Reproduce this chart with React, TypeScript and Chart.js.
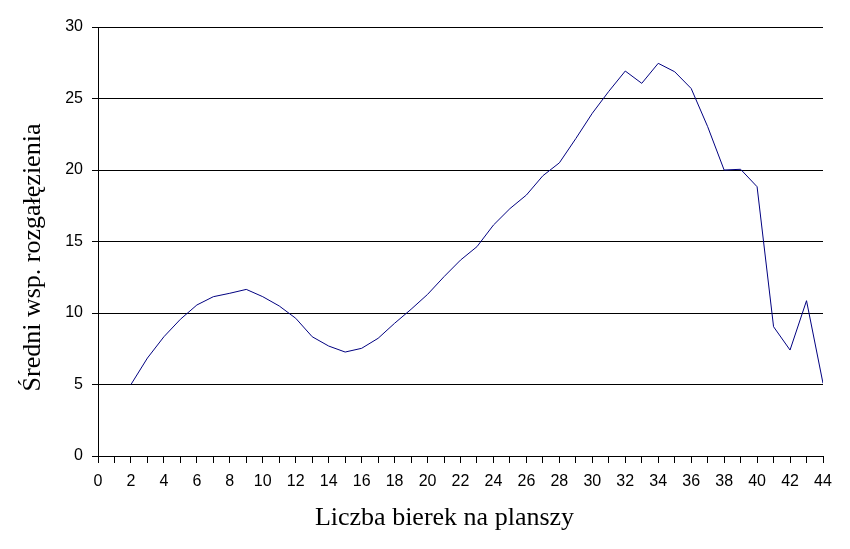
import React, { useEffect, useRef } from "react";
import { Chart, registerables } from "chart.js";

Chart.register(...registerables);

const xValues = [2, 3, 4, 5, 6, 7, 8, 9, 10, 11, 12, 13, 14, 15, 16, 17, 18, 19, 20, 21, 22, 23, 24, 25, 26, 27, 28, 29, 30, 31, 32, 33, 34, 35, 36, 37, 38, 39, 40, 41, 42, 43, 44];
const yValues = [5.0, 6.85, 8.34, 9.56, 10.56, 11.14, 11.38, 11.65, 11.14, 10.49, 9.63, 8.34, 7.69, 7.27, 7.53, 8.23, 9.28, 10.26, 11.3, 12.54, 13.7, 14.64, 16.15, 17.3, 18.25, 19.6, 20.5, 22.2, 23.97, 25.5, 26.92, 26.06, 27.46, 26.87, 25.7, 23.03, 20.0, 20.05, 18.83, 9.04, 7.41, 10.86, 5.08];
const xTitle = "Liczba bierek na planszy";
const yTitle = "Średni wsp. rozgałęzienia";

const titlesPlugin = {
  id: "excelTitles",
  afterDraw(chart: any) {
    const { ctx, chartArea } = chart;
    ctx.save();
    ctx.fillStyle = "#000";
    ctx.font = "26px 'Liberation Serif', 'Times New Roman', serif";
    ctx.textAlign = "center";
    ctx.textBaseline = "middle";
    const cx = (chartArea.left + chartArea.right) / 2 - 16;
    ctx.fillText(xTitle, cx, 518);
    const cy = (chartArea.top + chartArea.bottom) / 2 + 16;
    ctx.translate(33, cy);
    ctx.rotate(-Math.PI / 2);
    ctx.fillText(yTitle, 0, 0);
    ctx.restore();
  },
};

export default function App() {
  const ref = useRef<HTMLCanvasElement | null>(null);
  useEffect(() => {
    if (!ref.current) return;
    const chart = new Chart(ref.current, {
      type: "line",
      data: {
        datasets: [
          {
            data: xValues.map((x, i) => ({ x, y: yValues[i] })),
            borderColor: "#000080",
            borderWidth: 1,
            pointRadius: 0,
            tension: 0,
            fill: false,
          },
        ],
      },
      options: {
        animation: false,
        responsive: false,
        maintainAspectRatio: false,
        layout: { padding: { top: 27, right: 27, left: 0, bottom: 0 } },
        plugins: { legend: { display: false }, tooltip: { enabled: false } },
        scales: {
          x: {
            type: "linear",
            min: 0,
            max: 44,
            afterFit: (s: any) => {
              s.height = 93;
            },
            ticks: {
              stepSize: 1,
              autoSkip: false,
              maxRotation: 0,
              color: "#000",
              padding: 9,
              font: { family: "'Liberation Sans', Arial, sans-serif", size: 16 },
              callback: (v: any) => (Number(v) % 2 === 0 ? String(v) : ""),
            },
            grid: { drawOnChartArea: false, drawTicks: true, tickLength: 7, color: "#000", lineWidth: 1 },
            border: { color: "#000", width: 1 },
          },
          y: {
            min: 0,
            max: 30,
            afterFit: (s: any) => {
              s.width = 98;
            },
            ticks: {
              stepSize: 5,
              color: "#000",
              padding: 9,
              font: { family: "'Liberation Sans', Arial, sans-serif", size: 16 },
            },
            grid: { color: "#000", lineWidth: 1, tickLength: 6 },
            border: { color: "#000", width: 1 },
          },
        },
      },
      plugins: [titlesPlugin],
    });
    return () => chart.destroy();
  }, []);
  return (
    <div style={{ position: "fixed", left: 0, top: 0, width: 850, height: 549, background: "#fff" }}>
      <canvas ref={ref} width={850} height={549} style={{ display: "block" }} />
    </div>
  );
}
